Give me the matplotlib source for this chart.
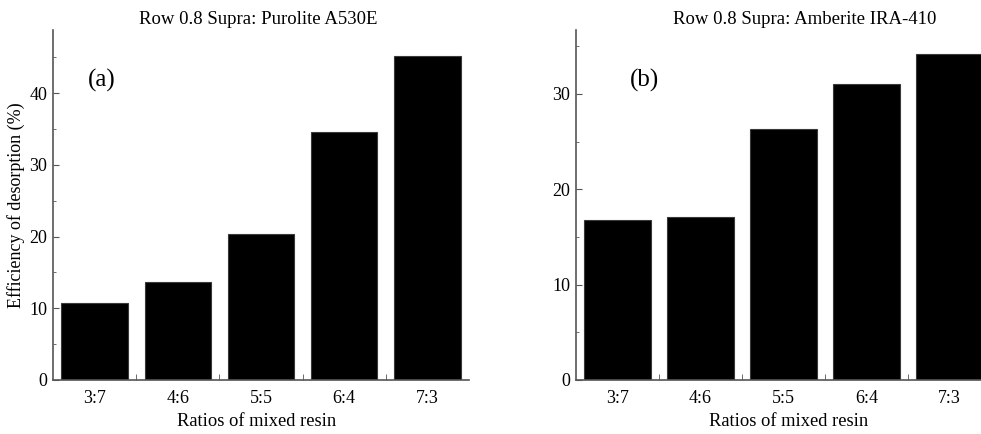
import matplotlib
matplotlib.use("Agg")
import matplotlib.pyplot as plt
from matplotlib.ticker import MultipleLocator, FixedLocator

plt.rcParams['font.family'] = ['Liberation Serif', 'DejaVu Serif']

ratios = ['3:7', '4:6', '5:5', '6:4', '7:3']
purolite = [10.7, 13.6, 20.3, 34.6, 45.2]
amberite = [16.8, 17.1, 26.3, 31.0, 34.2]

fig = plt.figure(figsize=(9.81, 4.34), dpi=100)
W, H = 981.0, 434.0

def make_axes(left, right, ymax, vals, label, ylabel=None):
    # pixel box -> figure fraction
    ax = fig.add_axes([left / W, (H - 380) / H, (right - left) / W, 350 / H])
    x = range(len(vals))
    ax.bar(x, vals, width=0.8, color='black', edgecolor='#3a3a3a', linewidth=0.8)
    ax.set_xlim(-0.5, len(vals) - 0.5)
    ax.set_ylim(0, ymax)
    ax.set_xticks(list(x))
    ax.set_xticklabels(ratios, fontsize=13)
    ax.xaxis.set_minor_locator(FixedLocator([i + 0.5 for i in range(len(vals) - 1)]))
    ax.tick_params(axis='x', which='major', length=0, pad=7)
    ax.tick_params(axis='x', which='minor', direction='in', length=4, color='#555')
    ax.yaxis.set_major_locator(MultipleLocator(10))
    ax.yaxis.set_minor_locator(MultipleLocator(5))
    ax.tick_params(axis='y', which='major', direction='in', length=4, labelsize=13, pad=4, color='#555')
    ax.tick_params(axis='y', which='minor', direction='in', length=2.5, color='#555')
    for s in ['top', 'right']:
        ax.spines[s].set_visible(False)
    for s in ['left', 'bottom']:
        ax.spines[s].set_color('#555')
        ax.spines[s].set_linewidth(1.2)
    ax.text(0.085 if ylabel else 0.13, 0.855, label, transform=ax.transAxes,
            fontsize=18, ha='left', va='center')
    if ylabel:
        ax.set_ylabel(ylabel, fontsize=13, labelpad=3)
    return ax

ax1 = make_axes(53, 469, 48.8, purolite, '(a)', 'Efficiency of desorption (%)')
ax2 = make_axes(576, 991, 36.7, amberite, '(b)')

fig.text(258 / W, 1 - 20 / H, 'Row 0.8 Supra: Purolite A530E', ha='center', va='center', fontsize=13.5)
fig.text(805 / W, 1 - 20 / H, 'Row 0.8 Supra: Amberite IRA-410', ha='center', va='center', fontsize=13.5)
fig.text(257 / W, 1 - 422 / H, 'Ratios of mixed resin', ha='center', va='center', fontsize=13.3)
fig.text(789 / W, 1 - 422 / H, 'Ratios of mixed resin', ha='center', va='center', fontsize=13.3)

fig.savefig('out.png', dpi=100)
